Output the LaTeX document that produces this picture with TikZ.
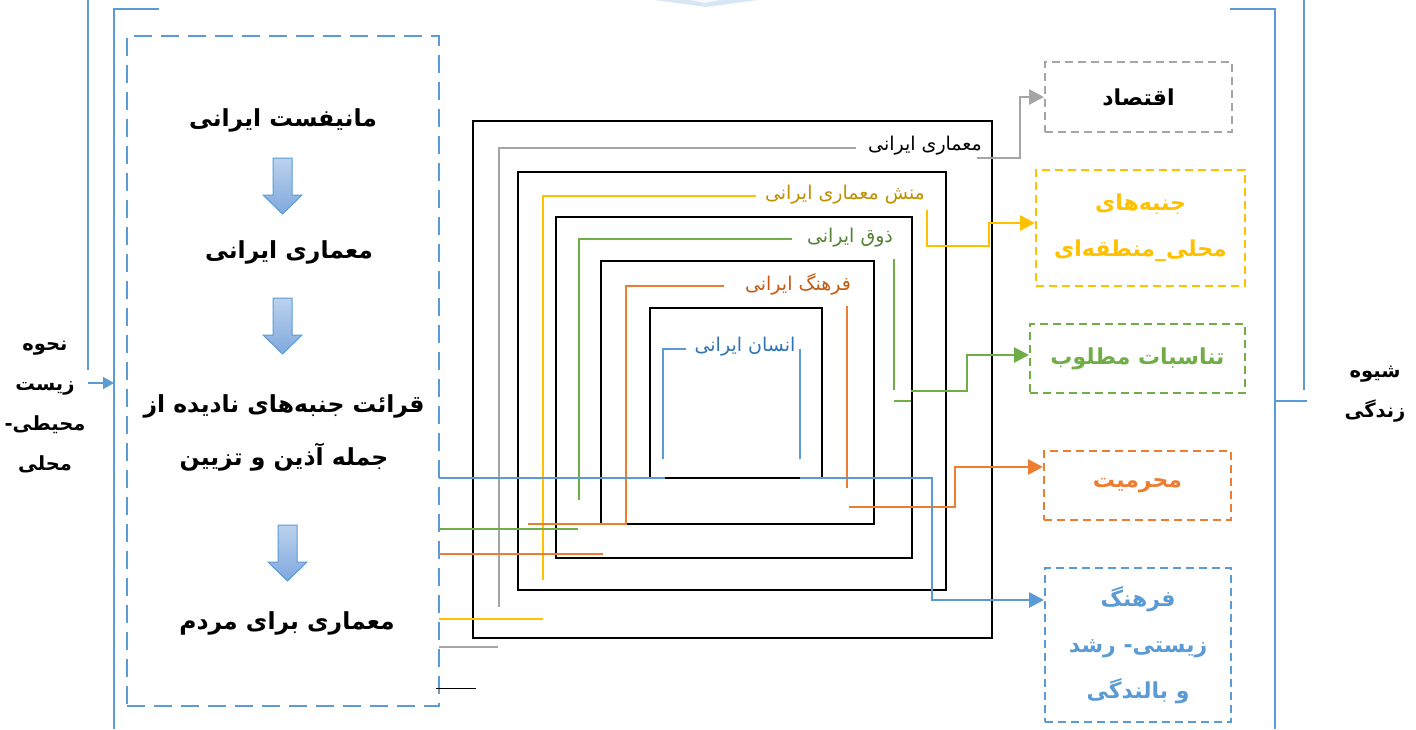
\documentclass[tikz,border=0pt]{standalone}
\usepackage{fontspec}
\usetikzlibrary{arrows.meta}
\newfontfamily\arabicfont[Script=Arabic]{DejaVu Sans}
\TeXXeTstate=1
\newcommand{\pr}[1]{\beginR #1\endR}
\definecolor{oblue}{HTML}{5B9BD5}
\definecolor{oorange}{HTML}{ED7D31}
\definecolor{ogray}{HTML}{A5A5A5}
\definecolor{oyellow}{HTML}{FFC000}
\definecolor{ogreen}{HTML}{70AD47}
\definecolor{tgold}{HTML}{BF9000}
\definecolor{tgreen}{HTML}{548235}
\definecolor{torange}{HTML}{C55A11}
\definecolor{tblue}{HTML}{2E75B6}
\definecolor{arrtop}{HTML}{BCD2EE}
\definecolor{arrbot}{HTML}{7FA8DD}
\tikzset{
  thinblue/.style={draw=oblue, line width=1.5pt},
  sq/.style={draw=black, line width=2.2pt},
  cline/.style={line width=2.7pt},
  arr/.style={-{Triangle[length=15pt,width=15pt]}},
  title/.style={font=\arabicfont\bfseries\fontsize{23.5}{53}\selectfont, align=center, inner sep=0},
  side/.style={font=\arabicfont\bfseries\fontsize{19.5}{40}\selectfont, align=center, inner sep=0},
  lbl/.style={font=\arabicfont\fontsize{19}{22}\selectfont, inner sep=0, fill=white, inner xsep=2pt},
  rbox/.style={draw, dash pattern=on 8pt off 5pt, line width=2pt, inner sep=0, align=center,
    font=\arabicfont\bfseries\fontsize{22}{46}\selectfont},
  blockarrow/.style={draw=oblue, line width=1pt, top color=arrtop, bottom color=arrbot},
}
\begin{document}
\begin{tikzpicture}[x=1pt,y=-1pt]
\useasboundingbox (0,0) rectangle (1416,729);

% faint top shape
\fill[oblue!35, opacity=0.7] (655,0) -- (758,0) -- (706,7) -- cycle;
\fill[white, opacity=0.8] (690,0) -- (720,0) -- (705,3) -- cycle;

% outer thin blue lines
\draw[thinblue] (88,0) -- (88,370);
\coordinate (lin) at (114,383);
\draw[thinblue, -{Triangle[length=11pt,width=12pt]}] (88,383) -- (lin);
\draw[thinblue] (159,9) -- (114,9) -- (114,729);
\draw[thinblue] (1230,9) -- (1275,9) -- (1275,729);
\draw[thinblue] (1304,0) -- (1304,390);
\draw[thinblue] (1275,401) -- (1307,401);

% left dashed box
\node[draw=oblue, dash pattern=on 18pt off 9pt, line width=2.2pt, minimum width=312, minimum height=670, inner sep=0] (lbox) at (283,371) {};

\node[title] (t1) at (283,120) {\pr{مانیفست ایرانی}};
\node[title] (t2) at (289,252) {\pr{معماری ایرانی}};
\node[title] (t3) at (284,433) {\pr{قرائت جنبه^^^^200cهای نادیده از}\\\pr{جمله آذین و تزیین}};
\node[title] (t4) at (287,623) {\pr{معماری برای مردم}};

% block arrows
\path[blockarrow] (273,158) -- (292,158) -- (292,195) -- (302,195) -- (282.5,214) -- (263,195) -- (273,195) -- cycle;
\path[blockarrow] (273,298) -- (292,298) -- (292,335) -- (302,335) -- (282.5,354) -- (263,335) -- (273,335) -- cycle;
\path[blockarrow] (278,525) -- (297,525) -- (297,562) -- (307,562) -- (287.5,581) -- (268,562) -- (278,562) -- cycle;

% side texts
\node[side] (ls) at (45,407) {\pr{نحوه}\\\pr{زیست}\\\pr{محیطی-}\\\pr{محلی}};
\node[side] (rs) at (1375,394) {\pr{شیوه}\\\pr{زندگی}};

% nested squares
\draw[sq] (473,121) rectangle (992,638);
\draw[sq] (518,172) rectangle (946,590);
\draw[sq] (556,217) rectangle (912,558);
\draw[sq] (601,261) rectangle (874,524);
\draw[sq] (650,308) rectangle (822,478);

% right boxes
\node[rbox, draw=ogray, text=black, minimum width=187, minimum height=70] (econ) at (1138.5,97) {\pr{اقتصاد}};
\node[rbox, draw=oyellow, text=oyellow, minimum width=209, minimum height=116] (ybox) at (1140.5,228) {\pr{جنبه^^^^200cهای}\\\pr{محلی\_منطقه^^^^200cای}};
\node[rbox, draw=ogreen, text=ogreen, minimum width=215, minimum height=69] (gbox) at (1137.5,358.5) {\pr{تناسبات مطلوب}};
\node[rbox, draw=oorange, text=oorange, minimum width=187, minimum height=69] (obox) at (1137.5,485.5) {\pr{محرمیت}};
\node[rbox, draw=oblue, text=oblue, minimum width=186, minimum height=154] (bbox) at (1138,645) {\pr{فرهنگ}\\\pr{زیستی- رشد}\\\pr{و بالندگی}};

% gray
\draw[cline, ogray] (856,148) -- (499,148) -- (499,607);
\draw[cline, ogray] (439,647) -- (498,647);
\draw[cline, ogray, arr] (977,158) -- (1020,158) |- (econ.west);
\node[lbl, text=black] (lg) at (925,146) {\pr{معماری ایرانی}};

% yellow
\draw[cline, oyellow] (756,196) -- (543,196) -- (543,580);
\draw[cline, oyellow] (439,619) -- (543,619);
\draw[cline, oyellow, arr] (927,210) -- (927,246) -- (989,246) |- (ybox.west |- 0,223);
\node[lbl, text=tgold] (ly) at (845,195) {\pr{منش معماری ایرانی}};

% green
\draw[cline, ogreen] (792,239) -- (579,239) -- (579,500);
\draw[cline, ogreen] (439,529) -- (578,529);
\draw[cline, ogreen] (894,259) -- (894,390);
\draw[cline, ogreen] (894,401) -- (911,401);
\draw[cline, ogreen, arr] (911,391) -- (967,391) |- (gbox.west |- 0,355);
\node[lbl, text=tgreen] (lgr) at (850,238) {\pr{ذوق ایرانی}};

% orange
\draw[cline, oorange] (724,286) -- (626,286) -- (626,524) -- (528,524);
\draw[cline, oorange] (439,554) -- (603,554);
\draw[cline, oorange] (847,306) -- (847,488);
\draw[cline, oorange, arr] (849,507) -- (955,507) |- (obox.west |- 0,467);
\node[lbl, text=torange] (lo) at (798,284) {\pr{فرهنگ ایرانی}};

% blue
\draw[cline, oblue] (686,349) -- (663,349) -- (663,459);
\draw[cline, oblue] (800,349) -- (800,459);
\draw[cline, oblue] (439,478) -- (665,478);
\draw[cline, oblue, arr] (800,478) -- (932,478) -- (932,600) -- (bbox.west |- 0,600);
\node[lbl, text=tblue] (lb) at (745,347) {\pr{انسان ایرانی}};

% black stub
\draw[black, line width=1pt] (436,688) -- (476,688);
\end{tikzpicture}
\end{document}
